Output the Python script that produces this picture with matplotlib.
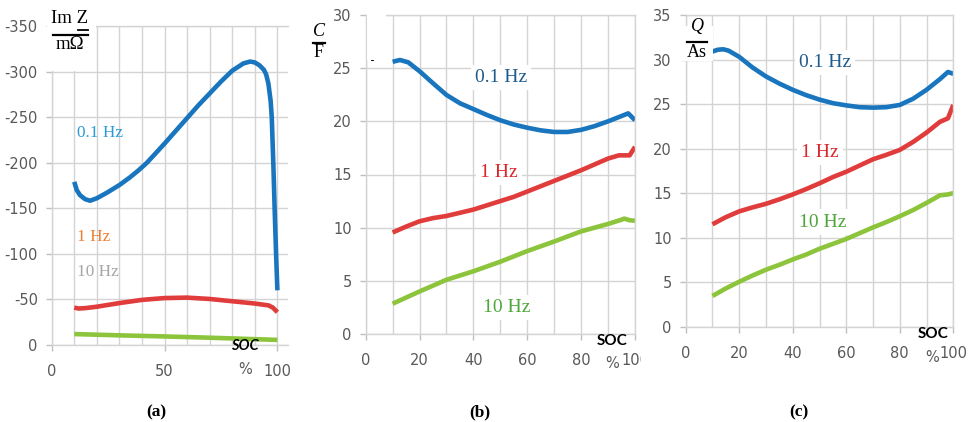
import numpy as np
import matplotlib
matplotlib.use('Agg')
import matplotlib.pyplot as plt
from matplotlib.patches import Rectangle
from matplotlib.lines import Line2D
from matplotlib.transforms import Bbox, TransformedBbox

plt.rcParams['axes.unicode_minus'] = False

# ---- data (a): Im Z in mOhm ----
soc_a_01 = [10, 11.1, 12.5, 14.8, 17, 20, 24.4, 30, 34.7, 38.4, 42, 45, 50, 55, 60, 65, 70, 75, 80,
            85, 88, 90, 92, 94, 95, 96, 97, 97.5, 98.2, 98.8, 99.4, 100]
imz_01 = [-179, -170, -164.5, -160, -158.3, -161, -167, -175.5, -184, -191.5, -199.5, -207.5, -221,
          -235, -249, -263, -276, -289, -301, -309, -311, -310, -307, -302, -297, -287, -268,
          -250, -199, -148, -101, -60]
soc_a = [10, 12, 15, 20, 30, 40, 50, 60, 70, 80, 90, 96, 98, 100]
imz_1 = [-41, -40, -40.5, -42, -46, -49.5, -51.5, -52, -50.5, -48, -45.5, -43.5, -41, -36]
soc_a_10 = [10, 20, 30, 40, 50, 60, 70, 80, 90, 100]
imz_10 = [-12, -11.3, -10.6, -10, -9.4, -8.7, -8, -7.2, -6.4, -5.6]

# ---- data (b): C in F ----
soc_b_01 = [10, 12.7, 15.8, 20.2, 25, 30, 35, 40, 45, 50, 55, 60, 65, 70, 75, 80, 85, 90, 95,
            97.5, 100]
cap_01 = [25.6, 25.77, 25.55, 24.67, 23.58, 22.48, 21.7, 21.15, 20.6, 20.1, 19.7, 19.4, 19.15,
          19.0, 19.0, 19.2, 19.55, 20.0, 20.5, 20.75, 20.1]
soc_b_1 = [10, 15, 20, 25, 30, 35, 40, 45, 50, 55, 60, 65, 70, 75, 80, 85, 90, 94, 98, 100]
cap_1 = [9.55, 10.1, 10.6, 10.9, 11.1, 11.4, 11.7, 12.1, 12.5, 12.9, 13.4, 13.9, 14.4, 14.9,
         15.4, 15.95, 16.5, 16.8, 16.8, 17.6]
soc_b_10 = [10, 20, 30, 40, 50, 60, 70, 80, 90, 95, 96, 98, 100]
cap_10 = [2.85, 4.0, 5.1, 5.9, 6.8, 7.8, 8.7, 9.65, 10.35, 10.75, 10.85, 10.7, 10.65]

# ---- data (c): Q in As ----
soc_c_01 = [10, 12, 14, 16, 20, 25, 30, 35, 40, 45, 50, 55, 60, 65, 70, 75, 80, 85, 90, 95, 98, 100]
q_01 = [30.9, 31.1, 31.15, 31.0, 30.3, 29.1, 28.1, 27.3, 26.6, 26.0, 25.5, 25.1, 24.85, 24.65,
        24.6, 24.65, 24.9, 25.6, 26.6, 27.8, 28.6, 28.4]
soc_c = [10, 15, 20, 25, 30, 35, 40, 45, 50, 55, 60, 65, 70, 75, 80, 85, 90, 95, 98, 100]
q_1 = [11.5, 12.3, 12.95, 13.4, 13.8, 14.3, 14.85, 15.45, 16.1, 16.8, 17.4, 18.1, 18.8, 19.3,
       19.85, 20.75, 21.8, 23.0, 23.4, 24.9]
q_10 = [3.45, 4.3, 5.05, 5.75, 6.4, 6.95, 7.55, 8.1, 8.75, 9.3, 9.85, 10.5, 11.15, 11.75,
        12.4, 13.1, 13.9, 14.75, 14.85, 15.0]

BLUE = '#1976be'
RED = '#e03c3c'
GREEN = '#8cc43c'
GRID = '#d4d4d4'
TXT = '#595959'
W, H = 973, 422
LW = 3.3
TICKFONT = 'DejaVu Sans'

fig = plt.figure(figsize=(9.73, 4.22), dpi=100)


def px(x, y):
    return x / W, 1 - y / H


def make_ax(x0, x1, y0, y1):
    ax = fig.add_axes([x0 / W, 1 - y1 / H, (x1 - x0) / W, (y1 - y0) / H])
    for s in ax.spines.values():
        s.set_color(GRID)
        s.set_linewidth(1)
    ax.grid(True, which='both', color=GRID, lw=1)
    ax.set_axisbelow(True)
    ax.tick_params(axis='both', which='major', colors='#bfbfbf', labelcolor=TXT,
                   labelsize=10.5, length=4, width=1)
    ax.tick_params(axis='x', which='major', pad=10)
    ax.tick_params(axis='y', which='major', pad=6)
    ax.tick_params(which='minor', length=0)
    return ax


def style_labels(ax):
    for lab in ax.get_xticklabels() + ax.get_yticklabels():
        lab.set_fontfamily(TICKFONT)


def curve(ax, x, y, color):
    ax.plot(x, y, color=color, lw=LW, solid_capstyle='butt', solid_joinstyle='round')


def fraction(xc, ytop, ybar, ybot, top, bottom, w, top_style='normal', size=12.5):
    x, y = px(xc, ytop)
    fig.text(x, y, top, ha='center', va='center', family='Liberation Serif',
             style=top_style, fontsize=size, zorder=6)
    x, y = px(xc, ybot)
    fig.text(x, y, bottom, ha='center', va='center', family='Liberation Serif',
             fontsize=size, zorder=6)
    xa, ya = px(xc - w / 2, ybar)
    xb, _ = px(xc + w / 2, ybar)
    fig.add_artist(Line2D([xa, xb], [ya, ya], color='black', lw=1.6, zorder=6))


def white_box(x0, y0, x1, y1):
    a, b = px(x0, y1)
    fig.add_artist(Rectangle((a, b), (x1 - x0) / W, (y1 - y0) / H, facecolor='white',
                             edgecolor='none', transform=fig.transFigure, zorder=5))


def hz_label(ax, x, y, s, color, size, box=True):
    kw = dict(color=color, family='Liberation Serif', fontsize=size, va='center', ha='left')
    if box:
        kw['bbox'] = dict(facecolor='white', edgecolor='none', pad=3)
    ax.text(x, y, s, **kw)


# ---------- (a) ----------
ax1 = make_ax(51.7, 288, 26, 345)
curve(ax1, soc_a_01, imz_01, BLUE)
curve(ax1, soc_a, imz_1, RED)
curve(ax1, soc_a_10, imz_10, GREEN)
ax1.set_xlim(0, 104.7)
ax1.set_ylim(0, -350)
ax1.set_xticks([0, 50, 100])
ax1.set_xticks(np.arange(0, 101, 10), minor=True)
ax1.set_yticks(np.arange(0, -351, -50))
ax1.spines['right'].set_visible(False)
style_labels(ax1)
hz_label(ax1, 11.2, -233, '0.1 Hz', '#2a9ad8', 12.4, box=False)
hz_label(ax1, 11.2, -118, '1 Hz', '#ed7d31', 12.4, box=False)
hz_label(ax1, 11.2, -80, '10 Hz', '#a5a5a5', 12.4, box=False)
white_box(47, 6, 96, 71)
fraction(70, 18.5, 34.5, 44.5, 'Im Z', 'mΩ', 35, size=13.5)
xa, ya = px(78, 29.5)
xb, _ = px(88, 29.5)
fig.add_artist(Line2D([xa, xb], [ya, ya], color='black', lw=1.3, zorder=6))
x, y = px(245, 346)
fig.text(x, y, 'SOC', ha='center', va='center', family='Lato', weight='bold',
         style='italic', fontsize=10.5, zorder=6)
x, y = px(245, 370)
fig.text(x, y, '%', ha='center', va='center', family=TICKFONT, color=TXT, fontsize=10.5)

# ---------- (b) ----------
ax2 = make_ax(365.7, 635, 15, 334)
curve(ax2, soc_b_01, cap_01, BLUE)
curve(ax2, soc_b_1, cap_1, RED)
curve(ax2, soc_b_10, cap_10, GREEN)
ax2.set_xlim(0, 100)
ax2.set_ylim(0, 30)
ax2.set_xticks(np.arange(0, 101, 20))
ax2.set_xticks(np.arange(0, 101, 10), minor=True)
ax2.set_yticks(np.arange(0, 31, 5))
style_labels(ax2)
hz_label(ax2, 40.6, 24.1, '0.1 Hz', '#1f5c8c', 14)
hz_label(ax2, 42.4, 15.2, '1 Hz', '#d9262b', 14)
hz_label(ax2, 43.6, 2.5, '10 Hz', '#4fa63a', 14)
white_box(367, 12, 386, 60)
ax2.plot([2.3], [25.9], marker='s', ms=1.2, color='black', clip_on=False)
fraction(319, 31, 43, 52.5, 'C', 'F', 12, top_style='italic', size=13)
x, y = px(612, 341)
fig.text(x, y, 'SOC', ha='center', va='center', family='Lato', weight='bold',
         fontsize=11, zorder=6)
x, y = px(612, 364)
fig.text(x, y, '%', ha='center', va='center', family=TICKFONT, color=TXT, fontsize=10.5)
lab100 = ax2.get_xticklabels()[-1]
lab100.set_clip_box(TransformedBbox(Bbox([[0, 0], [641 / W, 1]]), fig.transFigure))
lab100.set_clip_on(True)

# ---------- (c) ----------
ax3 = make_ax(685.7, 953.3, 15, 326.7)
curve(ax3, soc_c_01, q_01, BLUE)
curve(ax3, soc_c, q_1, RED)
curve(ax3, soc_c, q_10, GREEN)
ax3.set_xlim(0, 100)
ax3.set_ylim(0, 35)
ax3.set_xticks(np.arange(0, 101, 20))
ax3.set_xticks(np.arange(0, 101, 10), minor=True)
ax3.set_yticks(np.arange(0, 36, 5))
style_labels(ax3)
hz_label(ax3, 42.3, 29.7, '0.1 Hz', '#1f5c8c', 14)
hz_label(ax3, 43.1, 19.6, '1 Hz', '#d9262b', 14)
hz_label(ax3, 42.3, 11.75, '10 Hz', '#4fa63a', 14)
white_box(680, 26, 713, 61)
fraction(697, 26.5, 42, 52.5, 'Q', 'As', 20, top_style='italic', size=13)
x, y = px(933, 334)
fig.text(x, y, 'SOC', ha='center', va='center', family='Lato', weight='bold',
         fontsize=11, zorder=6)
x, y = px(932, 357)
fig.text(x, y, '%', ha='center', va='center', family=TICKFONT, color=TXT, fontsize=10.5)

# captions
for xc, s in [(156, '(a)'), (480, '(b)'), (799, '(c)')]:
    x, y = px(xc, 412)
    fig.text(x, y, s, ha='center', va='center', family='Liberation Serif',
             weight='bold', fontsize=12.5)

fig.savefig('out.png', dpi=100)
